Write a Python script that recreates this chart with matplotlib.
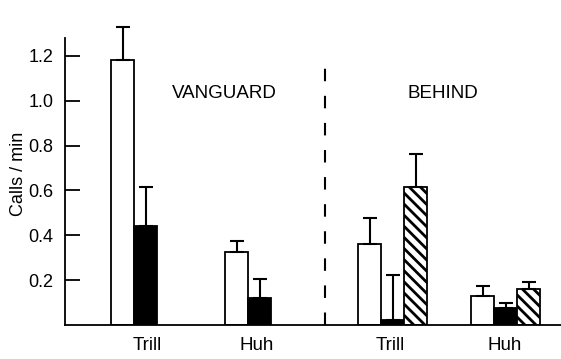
import numpy as np
import matplotlib
matplotlib.use("Agg")
import matplotlib.pyplot as plt

plt.rcParams['font.family'] = ['Liberation Sans', 'DejaVu Sans']
plt.rcParams['hatch.linewidth'] = 2.0

# values (calls / min), upper error bar ends
van_trill = [1.18, 0.44]
van_trill_err = [0.15, 0.177]
van_huh = [0.325, 0.122]
van_huh_err = [0.05, 0.082]
beh_trill = [0.362, 0.022, 0.617]
beh_trill_err = [0.114, 0.201, 0.145]
beh_huh = [0.131, 0.074, 0.16]
beh_huh_err = [0.044, 0.026, 0.03]

group_labels = ['Trill', 'Huh', 'Trill', 'Huh']
yticks = [0.2, 0.4, 0.6, 0.8, 1.0, 1.2]

# layout (pixel-like x units)
bw = 23
starts = [111, 225, 358, 471]
label_x = [147, 257, 390, 505]
styles = [dict(color='white', hatch=None),
          dict(color='black', hatch=None),
          dict(color='white', hatch='\\\\\\')]

fig = plt.figure(figsize=(5.61, 3.59), dpi=100)
ax = fig.add_axes([65 / 561, 34 / 359, 496 / 561, 287 / 359])

groups = [(van_trill, van_trill_err), (van_huh, van_huh_err),
          (beh_trill, beh_trill_err), (beh_huh, beh_huh_err)]
for g, (vals, errs) in enumerate(groups):
    for i, (v, e) in enumerate(zip(vals, errs)):
        x = starts[g] + i * bw + bw / 2
        st = styles[i]
        ax.bar(x, v, width=bw, color=st['color'], edgecolor='black',
               linewidth=1.3, hatch=st['hatch'], zorder=2)
        eb = ax.errorbar(x, v, yerr=[[0], [e]], fmt='none', ecolor='black',
                         elinewidth=1.5, capsize=4.7, capthick=1.5, zorder=3)
        for art in eb.lines[1] + eb.lines[2]:
            art.set_clip_on(False)

ax.axvline(325, ymin=0, ymax=1.205 / 1.28, color='black', lw=1.5,
           dashes=(6, 7))

ax.text(224, 1.033, 'VANGUARD', ha='center', va='center', fontsize=13.5)
ax.text(443, 1.033, 'BEHIND', ha='center', va='center', fontsize=13.5)

ax.set_xlim(65, 561)
ax.set_ylim(0, 1.28)
ax.set_yticks(yticks)
ax.set_yticklabels([f'{t:.1f}' for t in yticks], fontsize=13)
ax.tick_params(axis='y', direction='in', length=11, width=1.3, pad=8.5)
ax.set_xticks(label_x)
ax.set_xticklabels(group_labels, fontsize=13.5)
ax.tick_params(axis='x', length=0, pad=9)
ax.set_ylabel('Calls / min', fontsize=13)
ax.yaxis.set_label_coords(-0.076, 0.526)

for s in ['top', 'right']:
    ax.spines[s].set_visible(False)
ax.spines['left'].set_linewidth(1.3)
ax.spines['bottom'].set_linewidth(1.3)

fig.savefig('out.png', dpi=100)
